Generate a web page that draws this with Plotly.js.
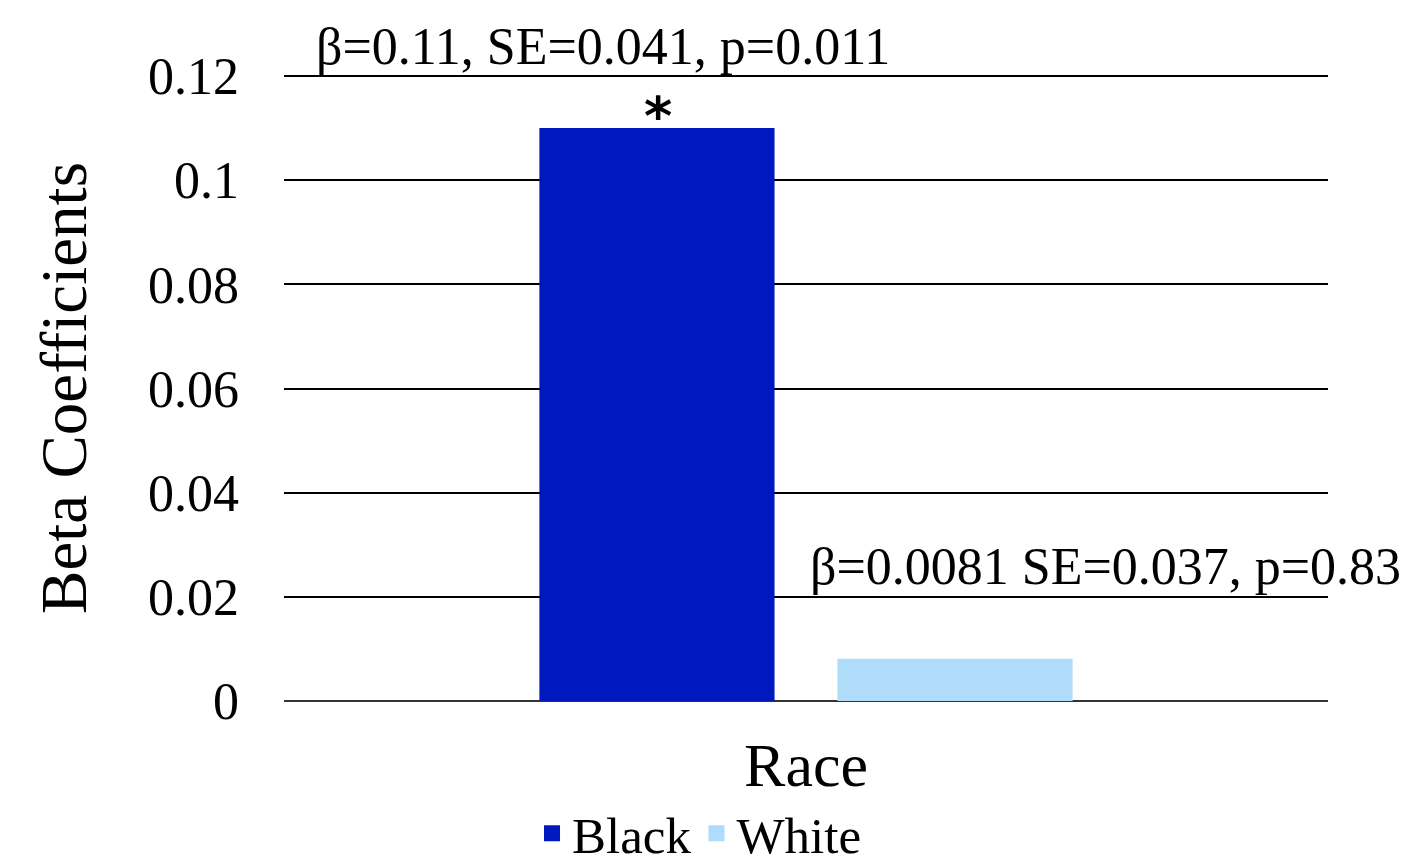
<!DOCTYPE html>
<html>
<head>
<meta charset="utf-8">
<script src="https://cdn.plot.ly/plotly-3.0.1.min.js"></script>
<style>html,body{margin:0;padding:0;background:#fff;}#chart{width:1404px;height:867px;}</style>
</head>
<body>
<div id="chart"></div>
<script>
const categories = ["Race"];
const seriesNames = ["Black", "White"];
const blackValues = [0.11];
const whiteValues = [0.0081];
const seriesColors = ["#0019BE", "#AEDCF9"];
const statLabels = ["β=0.11, SE=0.041, p=0.011", "β=0.0081 SE=0.037, p=0.83"];
const sigMark = "*";
const yTickVals = [0, 0.02, 0.04, 0.06, 0.08, 0.1, 0.12];

const FONT = "Liberation Serif, Times New Roman, serif";

const traces = [
  {type: "bar", name: seriesNames[0], x: categories, y: blackValues, marker: {color: seriesColors[0]}, hoverinfo: "none", showlegend: false},
  {type: "bar", name: seriesNames[1], x: categories, y: whiteValues, marker: {color: seriesColors[1]}, hoverinfo: "none", showlegend: false},
  // legend entries with larger square swatches
  {type: "scatter", mode: "markers", name: seriesNames[0], x: [null], y: [null], marker: {symbol: "square", size: 23, color: seriesColors[0]}, hoverinfo: "none"},
  {type: "scatter", mode: "markers", name: seriesNames[1], x: [null], y: [null], marker: {symbol: "square", size: 23, color: seriesColors[1]}, hoverinfo: "none"}
];

const layout = {
  width: 1404, height: 867,
  margin: {l: 284, r: 76, t: 75, b: 166, autoexpand: false},
  paper_bgcolor: "#fff", plot_bgcolor: "#fff",
  font: {family: FONT, color: "#000"},
  barmode: "group", bargap: 0.429, bargroupgap: 0.211,
  showlegend: true,
  legend: {orientation: "h", x: 0.398, xanchor: "center", y: -0.212, yanchor: "middle",
           font: {size: 51, family: FONT}, itemwidth: 30, itemclick: false, tracegroupgap: 0,
           traceorder: "normal"},
  xaxis: {type: "category", tickfont: {size: 62, family: FONT}, showgrid: false, showline: false,
          zeroline: false, ticks: "", ticklabelstandoff: 22, automargin: false},
  yaxis: {range: [0, 0.1202], tickvals: yTickVals, ticktext: yTickVals.map(v => String(v)),
          tickfont: {size: 52, family: FONT}, showgrid: true, gridcolor: "#000", gridwidth: 2,
          zeroline: true, zerolinecolor: "#333", zerolinewidth: 2.5, showline: false, ticks: "",
          ticklabelstandoff: 44, automargin: false,
          title: {text: "Beta Coefficients", font: {size: 65, family: FONT}, standoff: 40}},
  annotations: [
    {xref: "paper", yref: "y", x: (603 - 284) / 1044, y: 0.12, yshift: 30, text: statLabels[0],
     showarrow: false, font: {size: 52, family: FONT}, xanchor: "center", yanchor: "middle"},
    {xref: "paper", yref: "y", x: (1105 - 284) / 1044, y: 0.02, yshift: 30, text: statLabels[1],
     showarrow: false, font: {size: 52, family: FONT}, xanchor: "center", yanchor: "middle"},
    {xref: "paper", yref: "y", x: (658 - 284) / 1044, y: blackValues[0], yshift: -22, text: "<b>" + sigMark + "</b>",
     showarrow: false, font: {size: 54, family: "DejaVu Sans, sans-serif"}, xanchor: "center", yanchor: "bottom"}
  ]
};

Plotly.newPlot("chart", traces, layout, {staticPlot: true, displayModeBar: false});
</script>
</body>
</html>
